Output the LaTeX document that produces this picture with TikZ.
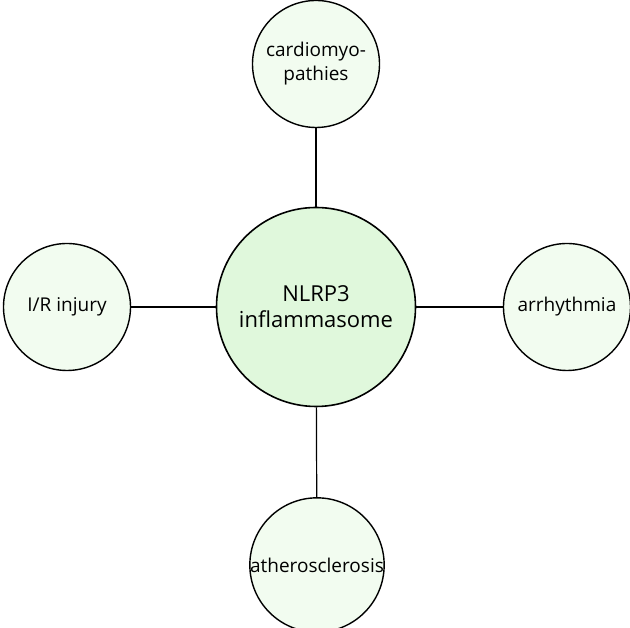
\documentclass[tikz,border=0pt]{standalone}
\usepackage{fontspec}
\setmainfont{Open Sans}
\definecolor{hubgreen}{RGB}{224,248,220}
\definecolor{leafgreen}{RGB}{242,252,240}
\begin{document}
\begin{tikzpicture}[x=1pt,y=1pt,
    hub/.style={circle, draw=black, line width=1.6pt, fill=hubgreen,
        minimum size=199pt, inner sep=0pt, align=center, font=\fontsize{22}{26}\selectfont},
    leaf/.style={circle, draw=black, line width=1.4pt, fill=leafgreen,
        minimum size=127pt, inner sep=0pt, align=center, font=\fontsize{19}{24}\selectfont},
    link/.style={black, line width=1.2pt}]
    \useasboundingbox (0,0) rectangle (630,628);
    % Hub and disease nodes
    \node[hub] (nlrp) at (316,321) {NLRP3\\inflammasome};
    \node[leaf] (cardio) at (316,564) {cardiomyo-\\pathies};
    \node[leaf] (injury) at (67,321) {I/R injury};
    \node[leaf] (arrhy) at (567,321) {arrhythmia};
    \node[leaf, minimum size=132pt] (athero) at (317,63) {atherosclerosis};
    % Connectors
    \foreach \n in {cardio, injury, arrhy, athero}{
        \draw[link] (nlrp) -- (\n);
    }
\end{tikzpicture}
\end{document}
